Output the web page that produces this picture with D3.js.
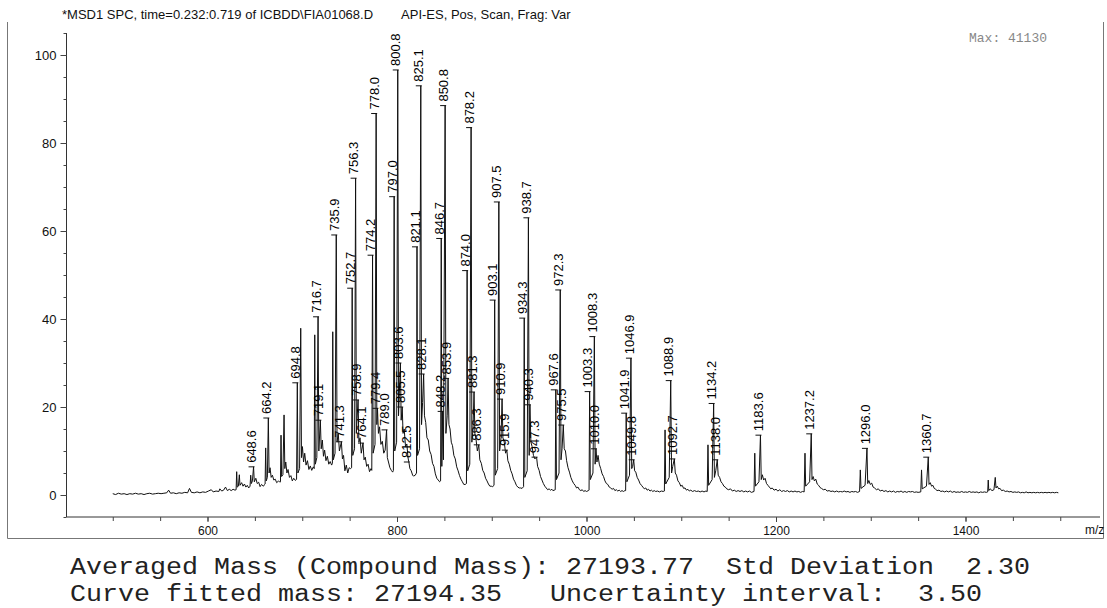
<!DOCTYPE html>
<html>
<head>
<meta charset="utf-8">
<script src="https://cdn.jsdelivr.net/npm/d3@7"></script>
<style>
  body { margin: 0; background: #fff; }
  svg text { white-space: pre; }
</style>
</head>
<body>
<svg id="chart" width="1107" height="608"></svg>
<script>
// ---- Text ----
const headerLeft = "*MSD1 SPC, time=0.232:0.719 of ICBDD\\FIA01068.D";
const headerRight = "API-ES, Pos, Scan, Frag: Var";
const maxNote = "Max: 41130";
const axisUnit = "m/z";
const summaryLines = [
  "Averaged Mass (Compound Mass): 27193.77  Std Deviation  2.30",
  "Curve fitted mass: 27194.35   Uncertainty interval:  3.50"
];

// ---- Axis ticks ----
const yTickLabels = [0, 20, 40, 60, 80, 100];
const xTickLabels = [600, 800, 1000, 1200, 1400];

// ---- Labelled peaks: [m/z, relative abundance %] ----
const labeledPeaks = [
  [648.6, 6.4], [664.2, 17.5], [694.8, 25.5], [716.7, 40.5], [719.1, 17.0],
  [735.9, 59.1], [741.3, 12.1], [752.7, 47.0], [756.3, 72.0], [758.9, 21.6],
  [764.1, 11.8], [774.2, 54.5], [778.0, 86.7], [779.4, 19.7], [789.0, 14.8],
  [797.0, 67.8], [800.8, 96.6], [803.6, 30.0], [805.5, 20.0], [812.5, 7.5],
  [821.1, 56.4], [825.1, 93.0], [828.1, 27.5], [846.7, 58.3], [848.2, 19.0],
  [850.8, 88.5], [853.9, 26.5], [874.0, 51.0], [878.2, 83.5], [881.3, 23.4],
  [886.3, 11.4], [903.1, 44.3], [907.5, 66.6], [910.9, 21.8], [915.9, 10.2],
  [934.3, 40.2], [938.7, 63.0], [940.3, 20.5], [947.3, 8.6], [967.6, 23.9],
  [972.3, 46.6], [975.5, 15.9], [1003.3, 23.5], [1008.3, 36.0], [1010.0, 10.5],
  [1041.9, 18.6], [1046.9, 31.1], [1049.8, 8.0], [1088.9, 26.0], [1092.7, 8.2],
  [1134.2, 20.8], [1138.0, 8.0], [1183.6, 13.6], [1237.2, 13.9], [1296.0, 10.6],
  [1360.7, 8.6]
];

// ---- Rest of the spectrum trace: [m/z, relative abundance %] ----
const traceBase = [
  [500,0.3],[503,0.1],[506,0.4],[509,0.2],[512,0.3],[515,0.1],[518,0.3],[521,0.2],[524,0.4],[527,0.2],
  [530,0.3],[533,0.1],[536,0.3],[539,0.4],[542,0.2],[545,0.3],[548,0.4],[551,0.3],[554,0.4],[557,0.5],
  [559,1.1],[561,0.4],[564,0.5],[567,0.3],[570,0.5],[573,0.4],[576,0.6],[579,0.5],[581,1.5],[583,0.6],
  [586,0.5],[589,0.7],[592,0.5],[595,0.7],[598,0.6],[601,0.9],[604,1.2],[606,0.7],[609,0.9],[612,0.8],
  [613,1.4],[615,0.9],[617,1.1],[619,1.8],[621,1.0],[623,1.3],[625,1.0],[627,1.3],[629,1.1],
  [630.2,1.2],[630.8,5.3],[631.4,1.8],[632.6,2.0],[633.6,4.6],[634.3,2.2],[636,2.8],[637.5,2.0],[639,2.5],
  [640.5,1.8],[642,2.2],[643.5,1.6],
  [644.9,2.0],[645.6,4.5],[646.3,2.6],[647.4,3.2],[649.4,3.0],[651,3.8],[652.5,2.6],[654,2.9],
  [655.5,1.9],[657,2.4],[659,2.0],[660.3,2.4],
  [660.8,2.5],[661.4,10.7],[662.0,3.2],[663.2,4.0],[665.0,5.0],[666.0,6.2],[667.2,4.0],[668.5,4.5],
  [670,3.4],[671.5,3.6],[673,2.8],[675,3.2],[676.4,2.9],
  [677.0,3.0],[677.6,13.6],[678.2,4.2],[679.6,4.6],[680.8,18.2],[681.6,6.0],[682.6,7.5],[683.8,5.0],
  [685,5.8],[686.5,4.0],[688,4.4],[689.5,3.2],[691,3.8],[692.8,3.3],[694.0,3.6],
  [695.4,5.0],[697.2,6.0],[698.4,37.9],[699.2,8.5],[700.2,11],[701.4,7.5],[702.6,9.5],[704,6.8],
  [705.5,7.8],[707,5.8],[708.5,6.6],[710,5.6],[711.7,6.4],[712.6,6.0],
  [713.2,36.4],[713.8,7.0],[715.4,8.5],[717.5,10],[720,10.5],[721.2,12.5],[722.4,8.8],[723.6,10.2],
  [725,7.8],[726.5,8.8],[728,7.0],[729.5,7.6],[731,6.8],[731.8,7.2],
  [732.2,37.1],[732.8,8.0],[734.6,9.5],[736.7,12],[738,14],[739.2,10],[742.4,8.2],[743.6,9.0],
  [745,5.5],[746.5,6.8],[748,5.0],[749.5,6.2],[751,6.0],
  [752.1,6.2],[753.3,9.0],[755.2,10.5],[757.1,14],[759.8,12],[761,13],[762.3,9.5],[765.2,8.0],
  [766.5,8.6],[768,6.5],[769.5,7.0],[771,5.3],[772.6,6.0],[773.4,5.6],
  [774.8,9.5],[776.8,11.5],[778.7,16],[780.4,14],[781.6,15.5],[783,11.5],[784.5,12.2],[786,9.5],
  [787.5,10.2],[789.8,8.5],[791,7.5],[792.5,6.2],[794,5.6],[795.4,5.2],[796.2,5.6],
  [797.6,10],[799.6,12],[801.6,18],[804.4,17],[806.4,14],[807.6,15],[809,11],[810.4,11.6],[811.6,8.5],
  [813.6,6.0],[815,5.5],[816.5,4.5],[817.4,4.3],[819.3,4.5],[820.0,4.8],[820.6,5],
  [821.7,9],[823.8,10.5],[825.9,16],[827.0,21],[829.0,18],[830.3,16.5],[831.6,13],[833,12.5],
  [834.5,10],[836,9.2],[837.5,7.2],[839,6.5],[840.5,4.8],[842,3.8],[843.5,3.4],[845,3.0],[846.0,3.2],
  [847.3,6.5],[849.0,8],[851.6,14],[853.0,18],[854.8,16],[856,15],[857.3,12],[858.6,11.2],[860,9],
  [861.5,8.2],[863,6.4],[864.5,5.5],[866,4.4],[867.5,3.6],[869,3.0],[870.5,2.4],[872,2.4],[873.3,2.6],
  [874.6,5.5],[876.8,7],[879.0,12],[880.2,15],[882.2,14],[883.5,12.5],[884.8,10],[887.4,8],[889,7.2],
  [890.5,5.6],[892,5],[893.5,3.8],[895,3.2],[896.5,2.5],[898,2.0],[899.5,2.0],[901,1.9],[902.4,2.2],
  [903.7,4.5],[906.2,6],[908.3,10],[909.8,13],[911.8,13],[913.2,12],[914.6,9.5],[917,7.8],[918.5,7],
  [920,5.6],[921.5,4.8],[923,3.6],[924.5,3],[926,2.2],[927.5,1.8],[929,1.6],[930.5,1.6],[932,1.5],[933.6,1.9],
  [934.9,4],[937.4,5.5],[939.5,9],[941.3,12],[942.6,11],[944,9],[945.5,8.2],[948.4,6.5],[950,5.6],
  [951.5,4.2],[953,3.4],[954.5,2.6],[956,2],[957.5,1.6],[959,1.2],[960.5,1.4],[962,1.1],[963.5,1.3],
  [964.5,1.0],[966,1.1],[967.0,1.2],
  [968.3,3.5],[971,5],[973.1,8],[974.2,10.5],[976.5,10.5],[977.8,10],[979,7.8],[980.5,6.2],[982,5.2],
  [983.5,4],[985,3.2],[986.5,2.6],[988,2.2],[989.5,1.6],[991,1.8],[992.5,1.2],[994,1.0],[995.5,1.2],
  [997,0.8],[998.5,1.0],[1000,0.8],[1002,1.0],[1002.7,1.1],
  [1004,3.5],[1006.8,5],[1009.1,7],[1011,7.5],[1012.2,9],[1013.5,7],[1015,6],[1016.5,4.8],[1018,4.2],
  [1019.5,3.2],[1021,2.6],[1022.5,2.4],[1024,1.8],[1025.5,1.6],[1027,1.3],[1028.5,1.5],[1030,1.0],
  [1031.5,1.2],[1033,0.9],[1034.5,1.1],[1036,0.8],[1037.5,1.0],[1039,0.8],[1040.5,1.0],[1041.3,1.0],
  [1042.6,3],[1045.4,4.5],[1047.7,6],[1048.7,6.5],[1050.8,5.5],[1052,5.2],[1053.5,4],[1055,3.4],
  [1056.5,2.6],[1058,2.2],[1059.5,1.8],[1061,1.4],[1062.5,1.6],[1064,1.1],[1065.5,1.3],[1067,0.9],
  [1068.5,1.1],[1070,0.8],[1071.5,1.0],[1073,0.8],[1075,0.9],[1077,0.7],[1079,0.9],[1081,0.8],[1082.2,0.9],
  [1082.9,14.8],[1083.6,2.5],[1087.3,4],[1089.8,5],[1091,6.5],[1093.7,5],[1095,4.5],[1096.5,3.2],
  [1098,2.8],[1099.5,2.0],[1101,2.2],[1102.5,1.5],[1104,1.6],[1105.5,1.1],[1107,1.3],[1108.5,0.9],
  [1110,1.1],[1112,0.8],[1114,1.0],[1116,0.8],[1118,0.9],[1120,0.7],[1122,0.9],[1124,0.7],[1126,0.9],[1127.4,0.8],
  [1128.2,11.4],[1128.9,2.2],[1132.6,3.5],[1135,4],[1136.4,5.5],[1139,4.5],[1140.5,4],[1142,3],
  [1143.5,2.6],[1145,2],[1146.5,1.8],[1148,1.4],[1150,1.2],[1152,1.4],[1154,0.9],[1156,1.1],[1158,0.8],
  [1160,1.0],[1162,0.8],[1164,1.0],[1166,0.7],[1168,0.9],[1170,0.7],[1172,0.9],[1174,0.6],[1176.8,0.8],
  [1177.6,9.5],[1178.3,2],[1182,3],[1184.4,3.5],[1185.6,4.6],[1187,3.4],[1188.5,3.8],[1190,2.6],
  [1191.5,2.2],[1193,1.8],[1194.5,1.4],[1196,1.6],[1198,1.1],[1200,1.3],[1202,0.9],[1204,1.2],
  [1206,0.8],[1208,1.0],[1210,0.8],[1212,1.0],[1214,0.7],[1216,0.9],[1218,0.7],[1220,0.9],[1222,0.7],
  [1224,0.8],[1226,0.6],[1228,0.8],[1229.7,0.7],
  [1230.6,9.5],[1231.3,2],[1235.5,3],[1238,3.5],[1239.2,4.2],[1240.5,3.2],[1242,3.6],[1243.5,2.5],
  [1245,2.2],[1246.5,1.7],[1248,1.5],[1250,1.2],[1252,1.3],[1254,0.9],[1256,1.0],[1258,0.8],[1260,0.9],
  [1262,0.7],[1264,0.9],[1266,0.7],[1268,0.8],[1270,0.7],[1272,0.9],[1274,0.7],[1276,0.8],[1278,0.6],
  [1280,0.8],[1282,0.7],[1284,0.8],[1286,0.6],[1288.2,0.8],
  [1289.0,5.7],[1289.7,1.5],[1294,2.2],[1296.8,2.6],[1298,3.3],[1299.5,2.4],[1301,2.7],[1302.5,1.8],
  [1304,1.6],[1306,1.2],[1308,1.4],[1310,0.9],[1312,1.1],[1314,0.8],[1316,1.0],[1318,0.7],[1320,0.9],
  [1322,0.7],[1324,0.9],[1326,0.6],[1328,0.8],[1330,0.7],[1332,0.9],[1334,0.6],[1336,0.8],[1338,0.6],
  [1340,0.8],[1342,0.7],[1344,0.8],[1346,0.6],[1348,0.7],[1350,0.6],[1352.8,0.7],
  [1353.6,5.7],[1354.3,1.4],[1358.8,2],[1361.5,2.4],[1362.8,2.8],[1364.2,2],[1365.6,2.2],[1367,1.5],
  [1368.5,1.3],[1370,1.0],[1372,1.1],[1374,0.8],[1376,0.9],[1378,0.7],[1380,0.9],[1382,0.7],[1384,0.9],
  [1386,0.6],[1388,0.8],[1390,0.6],[1392,0.7],[1394,0.6],[1396,0.8],[1398,0.6],[1400,0.7],[1402,0.6],
  [1404,0.8],[1406,0.6],[1408,0.7],[1410,0.6],[1412,0.7],[1414,0.5],[1416,0.7],[1418,0.6],[1420,0.7],
  [1422,0.6],[1423.4,0.7],
  [1424,3.4],[1424.6,1.0],[1426,1.4],[1428,1.0],[1430,1.2],[1431.4,4.0],[1432.2,1.6],[1433.5,2.0],
  [1435,1.4],[1436.5,1.5],[1438,1.0],[1440,1.1],[1442,0.8],[1444,0.9],[1446,0.7],[1448,0.8],[1450,0.6],
  [1452,0.7],[1454,0.6],[1456,0.7],[1458,0.5],[1460,0.6],[1462,0.5],[1464,0.7],[1466,0.5],[1468,0.6],
  [1470,0.5],[1472,0.6],[1474,0.5],[1476,0.6],[1478,0.5],[1480,0.6],[1482,0.5],[1484,0.6],[1486,0.5],
  [1488,0.6],[1490,0.5],[1492,0.6],[1494,0.5],[1496,0.6],[1498,0.5]
];

// ---- Layout ----
const svg = d3.select("#chart");
const sans = "Liberation Sans, Arial, sans-serif";
const mono = "Liberation Mono, Courier New, monospace";
const plotLeft = 66.5, plotRight = 1100;

const x = d3.scaleLinear().domain([600, 1400]).range([207.5, 965.5]);
const y = d3.scaleLinear().domain([0, 100]).range([495, 55]);
const yBottom = y(-5), yTop = y(105);

// outer frame (left, right, bottom)
svg.append("path")
  .attr("d", "M7.5,22 V538.5 H1103.5 V22")
  .attr("fill", "none").attr("stroke", "#777").attr("stroke-width", 1);

// header line
const hLeft = svg.append("text").attr("x", 62).attr("y", 19)
  .attr("font-family", sans).attr("font-size", 13)
  .attr("fill", "#111").text(headerLeft);
const hLeftEnd = 62 + hLeft.node().getComputedTextLength();
svg.append("text").attr("x", hLeftEnd + 28).attr("y", 19)
  .attr("font-family", sans).attr("font-size", 13)
  .attr("fill", "#111").text(headerRight);

// axes lines
svg.append("line").attr("x1", plotLeft).attr("x2", plotLeft)
  .attr("y1", yTop).attr("y2", yBottom).attr("stroke", "#333");
svg.append("line").attr("x1", plotLeft).attr("x2", plotRight)
  .attr("y1", yBottom).attr("y2", yBottom).attr("stroke", "#333");

// y axis: major ticks with labels, minor ticks every 5
const yAxisMajor = d3.axisLeft(y).tickValues(yTickLabels).tickSize(6).tickPadding(4);
const yAxisMinor = d3.axisLeft(y).tickValues(d3.range(-5, 106, 5)).tickSize(3).tickFormat("");
const gy = svg.append("g").attr("transform", `translate(${plotLeft},0)`).call(yAxisMajor);
const gyMinor = svg.append("g").attr("transform", `translate(${plotLeft},0)`).call(yAxisMinor);
[gy, gyMinor].forEach(g => {
  g.select(".domain").remove();
  g.selectAll("line").attr("stroke", "#444");
});
gy.selectAll("text").attr("font-family", sans).attr("font-size", 13).attr("fill", "#111");

// x axis: labelled ticks every 200, minor every 50
const xAxisMajor = d3.axisBottom(x).tickValues(xTickLabels).tickFormat(d3.format("d"))
  .tickSize(5).tickPadding(4);
const xAxisMinor = d3.axisBottom(x).tickValues(d3.range(500, 1501, 50)).tickSize(4).tickFormat("");
const gx = svg.append("g").attr("transform", `translate(0,${yBottom})`).call(xAxisMajor);
const gxMinor = svg.append("g").attr("transform", `translate(0,${yBottom})`).call(xAxisMinor);
[gx, gxMinor].forEach(g => {
  g.select(".domain").remove();
  g.selectAll("line").attr("stroke", "#444");
});
gx.selectAll("text").attr("font-family", sans).attr("font-size", 12).attr("fill", "#111");

svg.append("text").attr("x", 1085).attr("y", 534)
  .attr("font-family", sans).attr("font-size", 12)
  .attr("fill", "#111").text(axisUnit);

// Max abundance note
svg.append("text").attr("x", 969).attr("y", 42)
  .attr("font-family", mono).attr("font-size", 13)
  .attr("fill", "#888").text(maxNote);

// spectrum trace
const trace = traceBase.concat(labeledPeaks).sort((a, b) => a[0] - b[0]);
const line = d3.line().x(d => x(d[0])).y(d => y(d[1]));
svg.append("path").datum(trace)
  .attr("d", line).attr("fill", "none")
  .attr("stroke", "#111").attr("stroke-width", 1).attr("stroke-linejoin", "miter");

// peak annotations
const ann = svg.append("g").selectAll("g").data(labeledPeaks).join("g");
ann.append("line")
  .attr("x1", d => x(d[0]) - 5).attr("x2", d => x(d[0]) + 1)
  .attr("y1", d => y(d[1])).attr("y2", d => y(d[1]))
  .attr("stroke", "#111").attr("stroke-width", 1);
ann.append("text")
  .attr("transform", d => `translate(${x(d[0]) + 2.6},${y(d[1]) - 4}) rotate(-90)`)
  .attr("text-anchor", "start")
  .attr("font-family", sans).attr("font-size", 13)
  .attr("fill", "#000")
  .text(d => d[0].toFixed(1));

// summary below the plot
const summaryWidths = [960, 912];
svg.selectAll("text.summary").data(summaryLines).join("text")
  .attr("class", "summary")
  .attr("x", 70).attr("y", (d, i) => 574 + i * 27)
  .attr("font-family", mono).attr("font-size", 23)
  .attr("textLength", (d, i) => summaryWidths[i])
  .attr("lengthAdjust", "spacingAndGlyphs")
  .attr("fill", "#222")
  .text(d => d);
</script>
</body>
</html>
